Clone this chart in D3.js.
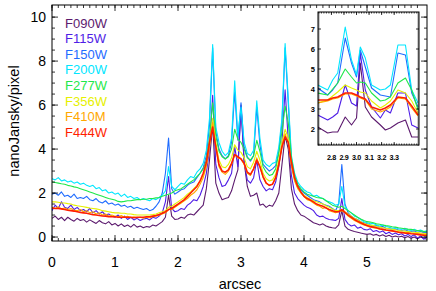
<!DOCTYPE html>
<html>
<head>
<meta charset="utf-8">
<script src="https://cdn.jsdelivr.net/npm/d3@7"></script>
<style>
  body { margin: 0; background: #fff; }
  svg { display: block; }
  text { font-family: "Liberation Sans", Arial, Helvetica, sans-serif; }
</style>
</head>
<body>
<div id="chart"></div>
<script>
// filters, in drawing order
const filters = ["F090W", "F115W", "F150W", "F200W", "F277W", "F356W", "F410M", "F444W"];
const colors  = ["#5c1a6e", "#4f1ee6", "#1f6cff", "#00e6ff", "#1fe84a", "#e6f000", "#ffa800", "#ff1e00"];

// main profile: sampled every 0.05 arcsec starting at 0
const step = 0.05;
const F090W = [
  0.85, 0.95, 0.8, 0.9, 0.75, 0.9, 0.8, 0.72, 0.85, 0.75,
  0.8, 0.68, 0.78, 0.7, 0.62, 0.75, 0.65, 0.6, 0.7, 0.55,
  0.62, 0.5, 0.6, 0.48, 0.55, 0.45, 0.58, 0.45, 0.5, 0.42,
  0.48, 0.45, 0.55, 0.5, 0.6, 0.7, 0.9, 1.9, 0.95, 0.8,
  0.82, 0.9, 0.85, 1.0, 1.05, 1.0, 1.15, 1.3, 1.45, 2.2,
  3.5, 5.1, 2.45, 2.0, 1.7, 1.75, 1.8, 2.1, 2.6, 3.05,
  6.0, 3.4, 2.3, 1.85, 1.9, 2.0, 1.45, 1.5, 1.35, 1.45,
  1.4, 1.65, 2.0, 3.3, 4.6, 4.0, 2.2, 1.5, 1.2, 1.0,
  0.95, 0.85, 0.75, 0.65, 0.6, 0.55, 0.6, 0.5, 0.45, 0.42,
  0.4, 0.55, 1.2, 0.5, 0.35, 0.3, 0.25, 0.22, 0.18, 0.15,
  0.12, 0.15, 0.08, 0.12, 0.05, 0.1, 0.02, 0.08, 0.0, 0.05,
  0.0, 0.04, -0.03, 0.02, -0.05, 0.0, -0.08, 0.0, -0.05, -0.1
];
const F115W = [
  1.2, 1.45, 1.3, 1.6, 1.35, 1.3, 1.45, 1.25, 1.35, 1.2,
  1.25, 1.15, 1.3, 1.1, 1.2, 1.05, 1.15, 1.0, 1.05, 0.95,
  0.9, 1.0, 0.85, 0.95, 0.8, 0.9, 0.78, 0.85, 0.75, 0.82,
  0.85, 0.78, 0.9, 0.85, 0.95, 1.1, 1.6, 2.75, 1.3, 1.15,
  1.2, 1.3, 1.25, 1.45, 1.55, 1.7, 1.65, 1.9, 2.3, 2.9,
  4.0, 6.45, 3.3, 2.7, 2.3, 2.35, 2.6, 2.9, 4.1, 3.2,
  5.9, 3.4, 2.6, 2.45, 2.7, 3.5, 2.6, 2.3, 2.1, 2.2,
  2.15, 2.5, 3.2, 4.3, 6.7, 4.4, 2.8, 2.0, 1.75, 1.6,
  1.45, 1.35, 1.3, 1.2, 1.0, 0.92, 0.95, 0.85, 0.8, 0.78,
  0.75, 0.85, 1.75, 0.8, 0.6, 0.5, 0.55, 0.4, 0.45, 0.35,
  0.32, 0.38, 0.25, 0.3, 0.22, 0.28, 0.15, 0.22, 0.12, 0.18,
  0.1, 0.15, 0.05, 0.12, 0.02, 0.1, -0.05, 0.05, -0.1, 0.0
];
const F150W = [
  1.95, 2.0, 1.9, 2.05, 1.85, 1.9, 1.8, 1.95, 1.75, 1.8,
  1.75, 1.85, 1.7, 1.65, 1.75, 1.6, 1.55, 1.65, 1.5, 1.55,
  1.45, 1.5, 1.4, 1.45, 1.35, 1.4, 1.3, 1.35, 1.3, 1.25,
  1.3, 1.2, 1.25, 1.4, 1.6, 2.0, 2.9, 4.5, 2.2, 1.95,
  2.05, 2.15, 2.2, 2.35, 2.45, 2.5, 2.7, 2.9, 3.15, 3.7,
  5.1, 8.6, 4.8, 4.0, 3.7, 3.55, 3.7, 4.3, 6.6, 4.4,
  6.1, 4.1, 3.65, 3.45, 3.7, 5.9, 4.2, 3.3, 3.15, 3.0,
  3.1, 3.25, 3.9, 5.2, 8.6, 6.1, 3.5, 2.7, 2.35, 2.15,
  2.0, 1.9, 1.8, 1.7, 1.65, 1.6, 1.5, 1.45, 1.4, 1.3,
  1.2, 1.5, 3.3, 1.5, 1.1, 0.95, 0.85, 0.8, 0.7, 0.65,
  0.6, 0.55, 0.5, 0.52, 0.45, 0.48, 0.4, 0.38, 0.35, 0.37,
  0.32, 0.3, 0.33, 0.27, 0.25, 0.28, 0.22, 0.25, 0.2, 0.22
];
const F200W = [
  2.65, 2.6, 2.7, 2.55, 2.6, 2.5, 2.55, 2.45, 2.5, 2.4,
  2.45, 2.35, 2.3, 2.35, 2.2, 2.25, 2.1, 2.15, 2.0, 2.05,
  1.95, 2.0, 1.85, 1.95, 1.8, 1.85, 1.75, 1.8, 1.7, 1.75,
  1.7, 1.65, 1.75, 1.7, 1.8, 1.9, 2.1, 3.2, 2.3, 2.15,
  2.3, 2.45, 2.4, 2.6, 2.75, 2.7, 2.95, 3.1, 3.35, 3.95,
  5.4, 8.75, 5.0, 4.3, 3.9, 3.7, 3.85, 4.5, 7.1, 4.6,
  5.9, 4.3, 3.8, 3.7, 3.95, 6.2, 4.5, 3.5, 3.3, 3.2,
  3.35, 3.4, 4.1, 5.4, 8.8, 6.3, 3.7, 2.9, 2.5, 2.3,
  2.15, 2.05, 2.0, 1.85, 1.9, 1.8, 1.75, 1.65, 1.6, 1.55,
  1.45, 1.5, 2.3, 1.4, 1.2, 1.1, 0.95, 0.9, 0.8, 0.7,
  0.65, 0.6, 0.62, 0.55, 0.5, 0.55, 0.48, 0.45, 0.4, 0.42,
  0.38, 0.35, 0.4, 0.33, 0.3, 0.35, 0.28, 0.32, 0.25, 0.28
];
const F277W = [
  2.5, 2.48, 2.45, 2.42, 2.4, 2.35, 2.32, 2.28, 2.25, 2.2,
  2.15, 2.1, 2.05, 2.0, 1.95, 1.9, 1.85, 1.8, 1.75, 1.72,
  1.68, 1.62, 1.6, 1.62, 1.65, 1.65, 1.68, 1.7, 1.7, 1.72,
  1.72, 1.75, 1.75, 1.78, 1.8, 1.85, 1.9, 1.95, 2.0, 2.1,
  2.15, 2.2, 2.3, 2.4, 2.5, 2.6, 2.75, 2.9, 3.1, 3.5,
  4.5, 6.1, 4.6, 3.9, 3.65, 3.55, 3.65, 4.0, 4.9, 4.45,
  4.3, 4.0, 3.6, 3.5, 3.7, 4.4, 3.9, 3.2, 2.95, 2.8,
  2.85, 3.1, 3.8, 4.8, 5.95, 5.2, 3.6, 2.8, 2.4, 2.2,
  2.05, 1.95, 1.9, 1.85, 1.8, 1.78, 1.75, 1.65, 1.55, 1.45,
  1.4, 1.35, 1.4, 1.3, 1.2, 1.1, 1.0, 0.9, 0.82, 0.75,
  0.7, 0.68, 0.65, 0.6, 0.58, 0.55, 0.52, 0.5, 0.47, 0.45,
  0.42, 0.4, 0.38, 0.36, 0.35, 0.32, 0.3, 0.28, 0.25, 0.25
];
const F356W = [
  1.6, 1.6, 1.58, 1.55, 1.55, 1.52, 1.5, 1.45, 1.42, 1.4,
  1.38, 1.35, 1.32, 1.3, 1.28, 1.25, 1.2, 1.18, 1.15, 1.12,
  1.1, 1.1, 1.08, 1.08, 1.05, 1.05, 1.02, 1.0, 1.0, 1.0,
  1.0, 1.0, 1.02, 1.05, 1.1, 1.15, 1.2, 1.35, 1.4, 1.5,
  1.6, 1.7, 1.8, 1.95, 2.05, 2.2, 2.35, 2.55, 2.8, 3.3,
  4.2, 5.4, 4.3, 3.5, 3.2, 3.15, 3.3, 3.6, 4.2, 3.95,
  3.85, 3.6, 3.2, 3.1, 3.4, 3.9, 3.5, 2.9, 2.65, 2.55,
  2.6, 2.85, 3.5, 4.3, 4.9, 4.5, 3.3, 2.6, 2.25, 2.05,
  1.9, 1.8, 1.72, 1.65, 1.6, 1.55, 1.5, 1.42, 1.35, 1.28,
  1.2, 1.2, 1.25, 1.15, 1.05, 0.95, 0.85, 0.78, 0.7, 0.62,
  0.58, 0.55, 0.52, 0.48, 0.45, 0.42, 0.4, 0.38, 0.35, 0.33,
  0.3, 0.28, 0.27, 0.25, 0.23, 0.22, 0.2, 0.18, 0.17, 0.15
];
const F410M = [
  1.35, 1.3, 1.38, 1.28, 1.32, 1.25, 1.3, 1.22, 1.2, 1.25,
  1.15, 1.2, 1.1, 1.15, 1.05, 1.1, 1.0, 1.05, 0.95, 1.0,
  0.95, 0.92, 0.98, 0.9, 0.95, 0.88, 0.92, 0.88, 0.9, 0.85,
  0.9, 0.88, 0.92, 0.95, 1.0, 1.05, 1.1, 1.25, 1.25, 1.35,
  1.45, 1.55, 1.65, 1.75, 1.9, 2.0, 2.15, 2.4, 2.7, 3.2,
  4.1, 5.2, 4.1, 3.2, 2.95, 2.85, 3.0, 3.3, 3.75, 3.6,
  3.55, 3.3, 2.9, 2.8, 3.1, 3.6, 3.2, 2.7, 2.45, 2.35,
  2.4, 2.7, 3.3, 4.1, 4.7, 4.3, 3.2, 2.55, 2.2, 2.0,
  1.85, 1.7, 1.65, 1.55, 1.45, 1.4, 1.3, 1.35, 1.2, 1.15,
  1.1, 1.15, 1.2, 1.1, 0.95, 0.85, 0.75, 0.68, 0.6, 0.55,
  0.5, 0.45, 0.42, 0.4, 0.36, 0.35, 0.32, 0.3, 0.28, 0.26,
  0.24, 0.22, 0.2, 0.2, 0.18, 0.16, 0.15, 0.14, 0.12, 0.1
];
const F444W = [
  1.32, 1.3, 1.3, 1.28, 1.25, 1.22, 1.2, 1.18, 1.15, 1.12,
  1.1, 1.08, 1.05, 1.02, 1.0, 0.98, 0.96, 0.95, 0.93, 0.92,
  0.92, 0.9, 0.9, 0.9, 0.9, 0.9, 0.88, 0.9, 0.9, 0.9,
  0.92, 0.92, 0.95, 0.98, 1.02, 1.08, 1.15, 1.25, 1.3, 1.4,
  1.5, 1.6, 1.7, 1.85, 2.0, 2.15, 2.3, 2.55, 2.9, 3.4,
  4.3, 5.0, 4.1, 3.3, 3.0, 2.95, 3.05, 3.35, 3.75, 3.65,
  3.55, 3.35, 2.95, 2.85, 3.1, 3.5, 3.2, 2.75, 2.45, 2.35,
  2.4, 2.7, 3.3, 4.1, 4.55, 4.3, 3.4, 2.7, 2.3, 2.05,
  1.85, 1.75, 1.68, 1.6, 1.5, 1.45, 1.4, 1.32, 1.25, 1.2,
  1.15, 1.15, 1.25, 1.12, 1.0, 0.9, 0.8, 0.72, 0.65, 0.58,
  0.52, 0.48, 0.45, 0.42, 0.38, 0.35, 0.32, 0.3, 0.28, 0.25,
  0.22, 0.2, 0.18, 0.17, 0.15, 0.14, 0.12, 0.1, 0.08, 0.07
];

// inset (zoom on the central peaks)
const insetX = [2.69, 2.77, 2.81, 2.85, 2.91, 2.96, 3.0, 3.03, 3.07, 3.12, 3.19, 3.23, 3.27, 3.33, 3.39, 3.44, 3.49];
const inF090W = [2.1, 1.8, 1.85, 1.85, 2.6, 2.2, 2.55, 5.3, 3.1, 2.6, 2.2, 1.95, 2.05, 2.3, 2.45, 1.6, 1.6];
const inF115W = [2.7, 2.45, 2.6, 2.8, 4.2, 3.3, 3.15, 5.8, 3.95, 3.1, 2.55, 2.95, 2.8, 3.8, 3.8, 2.2, 2.05];
const inF150W = [4.05, 3.7, 3.95, 4.3, 6.55, 5.3, 4.6, 5.95, 5.1, 4.05, 3.7, 3.65, 3.6, 5.8, 5.7, 3.8, 3.1];
const inF200W = [4.2, 3.95, 4.45, 4.8, 7.1, 5.45, 4.7, 6.1, 5.55, 4.2, 3.95, 4.0, 4.2, 6.2, 6.2, 3.95, 3.3];
const inF277W = [3.8, 3.7, 4.0, 4.3, 5.0, 4.6, 4.3, 4.35, 4.3, 3.8, 3.4, 3.45, 3.6, 4.3, 4.55, 3.95, 2.95];
const inF356W = [3.3, 3.45, 3.65, 3.85, 4.2, 4.05, 3.95, 3.85, 3.8, 3.4, 3.05, 3.2, 3.4, 3.95, 3.8, 3.4, 2.8];
const inF410M = [3.3, 3.4, 3.5, 3.55, 3.75, 3.75, 3.65, 3.55, 3.45, 3.0, 2.85, 2.95, 3.1, 3.55, 3.5, 3.05, 2.65];
const inF444W = [3.45, 3.45, 3.55, 3.6, 3.8, 3.8, 3.7, 3.6, 3.5, 3.1, 2.95, 3.05, 3.2, 3.6, 3.55, 3.15, 2.7];

const xTicks = [0, 1, 2, 3, 4, 5];
const yTicks = [0, 2, 4, 6, 8, 10];
const insetXTicks = [2.8, 2.9, 3.0, 3.1, 3.2, 3.3];
const insetYTicks = [2, 3, 4, 5, 6, 7];

const mainSeries = [F090W, F115W, F150W, F200W, F277W, F356W, F410M, F444W];
const insetSeries = [inF090W, inF115W, inF150W, inF200W, inF277W, inF356W, inF410M, inF444W];

const W = 436, H = 291;
const L = 52, R = 427, T = 5, B = 241;

const svg = d3.select("#chart").append("svg").attr("width", W).attr("height", H);

const x = d3.scaleLinear().domain([0, 5.952]).range([L, R]);
const y = d3.scaleLinear().domain([-0.18, 10.55]).range([B, T]);

svg.append("clipPath").attr("id", "clipMain")
  .append("rect").attr("x", L).attr("y", T).attr("width", R - L).attr("height", B - T);

const line = d3.line().x((d, i) => x(i * step)).y(d => y(d));
const gMain = svg.append("g").attr("clip-path", "url(#clipMain)");
mainSeries.forEach((s, k) => {
  gMain.append("path")
    .attr("d", line(s))
    .attr("fill", "none")
    .attr("stroke", colors[k])
    .attr("stroke-width", k === 7 ? 1.6 : 1.1)
    .attr("stroke-linejoin", "round");
});

// frame with inward ticks on all four sides (IDL style)
function box(g, xs, ys, xMaj, xMin, yMaj, yMin, majLen, minLen) {
  const [x0, x1] = xs.range(), [y0, y1] = ys.range();
  g.append("rect").attr("x", x0).attr("y", y1).attr("width", x1 - x0).attr("height", y0 - y1)
    .attr("fill", "none").attr("stroke", "#000").attr("stroke-width", 1);
  const tk = g.append("g").attr("stroke", "#000").attr("stroke-width", 0.8);
  const add = (vals, len, isX) => vals.forEach(v => {
    if (isX) {
      const p = xs(v);
      tk.append("line").attr("x1", p).attr("x2", p).attr("y1", y0).attr("y2", y0 - len);
      tk.append("line").attr("x1", p).attr("x2", p).attr("y1", y1).attr("y2", y1 + len);
    } else {
      const p = ys(v);
      tk.append("line").attr("y1", p).attr("y2", p).attr("x1", x0).attr("x2", x0 + len);
      tk.append("line").attr("y1", p).attr("y2", p).attr("x1", x1).attr("x2", x1 - len);
    }
  });
  add(xMin, minLen, true); add(xMaj, majLen, true);
  add(yMin, minLen, false); add(yMaj, majLen, false);
}

box(svg.append("g"), x, y,
  xTicks, d3.range(0, 59).map(i => i / 10),
  yTicks, d3.range(0, 21).map(i => i / 2), 6, 3);

svg.append("g").selectAll("text").data(xTicks).join("text")
  .attr("x", d => x(d)).attr("y", 267)
  .attr("text-anchor", "middle").attr("font-size", 14).text(d => d);
svg.append("g").selectAll("text").data(yTicks).join("text")
  .attr("x", 46).attr("y", d => y(d)).attr("dy", "0.36em")
  .attr("text-anchor", "end").attr("font-size", 14).text(d => d);

svg.append("text").attr("x", 240).attr("y", 289).attr("text-anchor", "middle")
  .attr("font-size", 14.5).text("arcsec");
svg.append("text").attr("transform", "translate(19,121) rotate(-90)")
  .attr("text-anchor", "middle").attr("font-size", 14.5).text("nanoJansky/pixel");

// legend
svg.append("g").selectAll("text").data(filters).join("text")
  .attr("x", 65).attr("y", (d, i) => 27.5 + i * 15.6)
  .attr("font-size", 13).attr("fill", (d, i) => colors[i]).text(d => d);

// inset
const xi = d3.scaleLinear().domain([2.693, 3.498]).range([318, 419]);
const yi = d3.scaleLinear().domain([1.2, 7.85]).range([145, 12]);
const gIn = svg.append("g");
gIn.append("rect").attr("x", 318).attr("y", 12).attr("width", 101).attr("height", 133).attr("fill", "#fff");
svg.append("clipPath").attr("id", "clipIn")
  .append("rect").attr("x", 318).attr("y", 12).attr("width", 101).attr("height", 133);
const lineIn = d3.line().x((d, i) => xi(insetX[i])).y(d => yi(d));
const gInLines = gIn.append("g").attr("clip-path", "url(#clipIn)");
insetSeries.forEach((s, k) => {
  gInLines.append("path")
    .attr("d", lineIn(s))
    .attr("fill", "none")
    .attr("stroke", colors[k])
    .attr("stroke-width", k === 7 ? 1.5 : 1.1)
    .attr("stroke-linejoin", "round");
});
box(gIn, xi, yi,
  insetXTicks, d3.range(135, 175).map(i => i / 50),
  insetYTicks, d3.range(12, 79).map(i => i / 10), 3, 1.5);

gIn.append("g").selectAll("text").data(insetXTicks).join("text")
  .attr("x", d => xi(d)).attr("y", 159.5)
  .attr("text-anchor", "middle").attr("font-size", 7.2).attr("font-weight", "bold")
  .attr("letter-spacing", -0.3)
  .text(d => d.toFixed(1));
gIn.append("g").selectAll("text").data(insetYTicks).join("text")
  .attr("x", 315).attr("y", d => yi(d)).attr("dy", "0.36em")
  .attr("text-anchor", "end").attr("font-size", 7.5).attr("font-weight", "bold")
  .text(d => d);
</script>
</body>
</html>
